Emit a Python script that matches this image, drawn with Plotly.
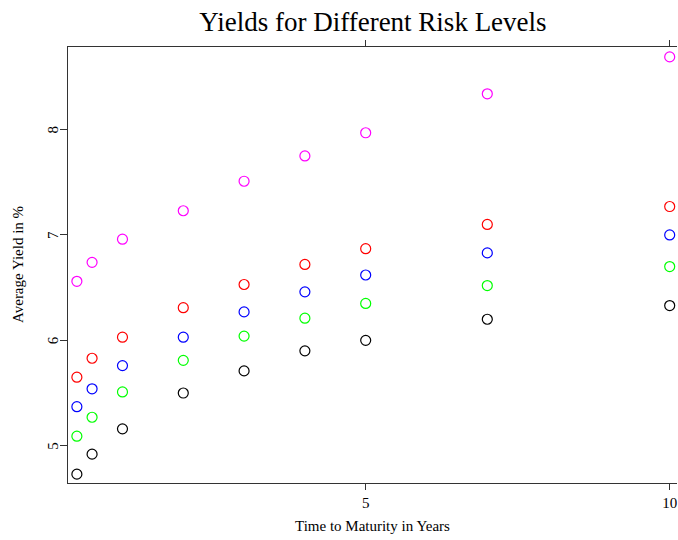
import plotly.graph_objects as go

maturity = [0.25, 0.5, 1, 2, 3, 4, 5, 7, 10]
risk_high = [6.56, 6.74, 6.96, 7.23, 7.51, 7.75, 7.97, 8.34, 8.69]
risk_mid_high = [5.65, 5.83, 6.03, 6.31, 6.53, 6.72, 6.87, 7.10, 7.27]
risk_mid = [5.37, 5.54, 5.76, 6.03, 6.27, 6.46, 6.62, 6.83, 7.00]
risk_mid_low = [5.09, 5.27, 5.51, 5.81, 6.04, 6.21, 6.35, 6.52, 6.70]
risk_low = [4.73, 4.92, 5.16, 5.50, 5.71, 5.90, 6.00, 6.20, 6.33]

x_ticks = [5, 10]
y_ticks = [5, 6, 7, 8]

series = [
    (risk_low, "black"),
    (risk_mid_low, "#00FF00"),
    (risk_mid, "#0000FF"),
    (risk_mid_high, "#FF0000"),
    (risk_high, "#FF00FF"),
]

fig = go.Figure()
for vals, col in series:
    fig.add_trace(go.Scatter(
        x=maturity, y=vals, mode="markers",
        marker=dict(symbol="circle-open", size=10, color=col, line=dict(width=1.2, color=col)),
        showlegend=False, cliponaxis=False, hoverinfo="skip",
    ))

font_family = "Liberation Serif, Times New Roman, serif"
fig.update_layout(
    width=678, height=540,
    margin=dict(l=68, r=1, t=47, b=57, autoexpand=False),
    paper_bgcolor="white", plot_bgcolor="white",
    font=dict(family=font_family, color="black", size=15),
    title=dict(text="Yields for Different Risk Levels", x=0.55, xanchor="center",
               y=0.96, yanchor="middle", font=dict(size=27, family=font_family)),
)
fig.update_xaxes(
    range=[0.104, 10.12], tickvals=x_ticks, ticktext=[str(v) for v in x_ticks],
    automargin=False,
    showgrid=False, zeroline=False, showline=True, linecolor="#333", linewidth=1,
    mirror="ticks", ticks="outside", ticklen=6, tickcolor="#333",
    tickfont=dict(size=15),
)
fig.update_yaxes(
    range=[4.646, 8.784], tickvals=y_ticks, showticklabels=False,
    automargin=False,
    showgrid=False, zeroline=False, showline=True, linecolor="#333", linewidth=1,
    mirror=False, ticks="outside", ticklen=7, tickcolor="#333",
)

# rotated y tick labels (R style, parallel to axis)
for v in y_ticks:
    fig.add_annotation(
        x=0, xref="paper", y=v, yref="y", text=str(v), showarrow=False,
        textangle=-90, xanchor="center", yanchor="middle", xshift=-15,
        font=dict(size=15, family=font_family),
    )

# axis titles
fig.add_annotation(
    x=0, xref="paper", y=0.5, yref="paper", text="Average Yield in %", showarrow=False,
    textangle=-90, xanchor="center", yanchor="middle", xshift=-50,
    font=dict(size=15, family=font_family),
)
fig.add_annotation(
    x=0.5, xref="paper", y=0, yref="paper", text="Time to Maturity in Years", showarrow=False,
    xanchor="center", yanchor="middle", yshift=-43,
    font=dict(size=15, family=font_family),
)

fig.write_html(
    "out.html",
    config={"displayModeBar": False},
    post_script="document.body.style.margin='0';document.body.style.overflow='hidden';",
)
